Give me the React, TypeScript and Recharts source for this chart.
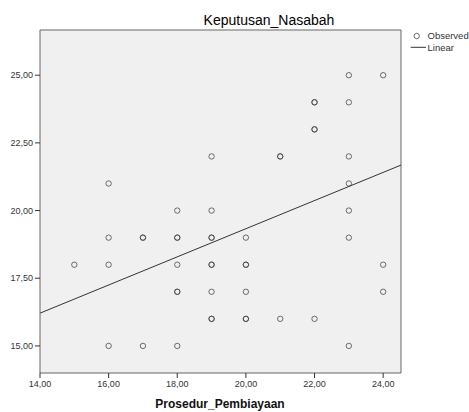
import React from 'react';
import {
  ScatterChart, Scatter, XAxis, YAxis, CartesianGrid, ReferenceLine,
} from 'recharts';

// Observed points (Prosedur_Pembiayaan, Keputusan_Nasabah); repeats are overlapping cases
const prosedur = [
  23, 24,
  22, 22, 23,
  22, 22,
  19, 21, 21, 23,
  16, 23,
  18, 19, 23,
  16, 17, 17, 18, 18, 19, 19, 20, 23,
  15, 16, 18, 19, 19, 20, 20, 24,
  18, 18, 19, 20, 24,
  19, 19, 20, 20, 21, 22,
  16, 17, 18, 23,
];
const keputusan = [
  25, 25,
  24, 24, 24,
  23, 23,
  22, 22, 22, 22,
  21, 21,
  20, 20, 20,
  19, 19, 19, 19, 19, 19, 19, 19, 19,
  18, 18, 18, 18, 18, 18, 18, 18,
  17, 17, 17, 17, 17,
  16, 16, 16, 16, 16, 16,
  15, 15, 15, 15,
];

// Linear fit, read at the two plot edges
const linearX = [14, 24.52];
const linearY = [16.21, 21.68];

const xTicks = [14, 16, 18, 20, 22, 24];
const yTicks = [15, 17.5, 20, 22.5, 25];
const xDomain: [number, number] = [14, 24.52];
const yDomain: [number, number] = [14, 26.67];

const observed = prosedur.map((x, i) => ({ x, y: keputusan[i] }));

const fmt = (v: number) => v.toFixed(2).replace('.', ',');
const FONT = '"Liberation Sans", Arial, sans-serif';
const tickStyle = { fill: '#333', fontSize: 9, fontFamily: FONT };

const Ring = (props: any) => (
  <circle
    cx={props.cx}
    cy={props.cy}
    r={2.7}
    fill="none"
    stroke="#3a3a3a"
    strokeOpacity={0.72}
    strokeWidth={1}
  />
);

const App: React.FC = () => {
  return (
    <div style={{ position: 'absolute', left: 0, top: 0, width: 469, height: 412, background: '#fff' }}>
      <ScatterChart width={469} height={412} margin={{ top: 30, right: 68, bottom: 0, left: 0 }}>
        <CartesianGrid fill="#f0f0f0" horizontal={false} vertical={false} />
        <XAxis
          type="number"
          dataKey="x"
          domain={xDomain}
          ticks={xTicks}
          allowDataOverflow
          height={39}
          tickFormatter={fmt}
          tick={tickStyle}
          tickSize={5}
          tickMargin={3}
          axisLine={{ stroke: '#666' }}
          tickLine={{ stroke: '#333' }}
        />
        <YAxis
          type="number"
          dataKey="y"
          domain={yDomain}
          ticks={yTicks}
          allowDataOverflow
          width={40}
          tickFormatter={fmt}
          tick={tickStyle}
          tickSize={5}
          tickMargin={2}
          axisLine={{ stroke: '#666' }}
          tickLine={{ stroke: '#333' }}
        />
        <ReferenceLine y={yDomain[1]} stroke="#666" />
        <ReferenceLine x={xDomain[1]} stroke="#666" />
        <Scatter data={observed} shape={Ring} isAnimationActive={false} />
        <ReferenceLine
          segment={[
            { x: linearX[0], y: linearY[0] },
            { x: linearX[1], y: linearY[1] },
          ]}
          stroke="#333"
          strokeWidth={1}
        />
      </ScatterChart>
      <svg
        width={469}
        height={412}
        style={{ position: 'absolute', left: 0, top: 0, pointerEvents: 'none' }}
      >
        <text x={269} y={25} textAnchor="middle" fontSize={14} fontFamily={FONT} fill="#000">
          Keputusan_Nasabah
        </text>
        <text x={220} y={408} textAnchor="middle" fontSize={12} fontWeight="bold" fontFamily={FONT} fill="#111">
          Prosedur_Pembiayaan
        </text>
        <circle cx={416.7} cy={36} r={2.7} fill="none" stroke="#3a3a3a" strokeOpacity={0.72} />
        <text x={427.5} y={39.3} fontSize={9.5} fontFamily={FONT} fill="#333">Observed</text>
        <line x1={410.7} x2={426} y1={47.3} y2={47.3} stroke="#333" strokeWidth={1} />
        <text x={427.5} y={50.6} fontSize={9.5} fontFamily={FONT} fill="#333">Linear</text>
      </svg>
    </div>
  );
};

export default App;
